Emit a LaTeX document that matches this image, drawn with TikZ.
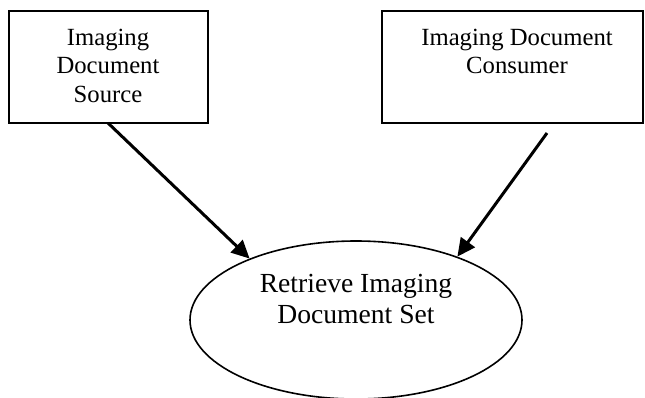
\documentclass[tikz,border=0pt]{standalone}
\usepackage{fontspec}
\setmainfont{Liberation Serif}
\usetikzlibrary{arrows.meta,shapes.geometric}
\begin{document}
\begin{tikzpicture}[x=1pt,y=-1pt,
  actorbox/.style={draw,line width=1.6pt,rectangle,inner sep=0pt},
  boxtext/.style={align=center,anchor=north,inner sep=0pt,font=\fontsize{24.7}{28.5}\selectfont},
  usecase/.style={draw,line width=1.6pt,ellipse,inner sep=0pt,minimum width=332pt,minimum height=158pt},
  ucttext/.style={align=center,anchor=north,inner sep=0pt,font=\fontsize{27.6}{31}\selectfont},
  flow/.style={line width=3pt,-{Triangle[length=18pt,width=17pt]}}]
\useasboundingbox (0,0) rectangle (645,398);
\node[actorbox,minimum width=199pt,minimum height=112pt] (src) at (108.5,67) {};
\node[actorbox,minimum width=261pt,minimum height=112pt] (cons) at (512.5,67) {};
\node[boxtext] (srctext) at (108,28.5) {Imaging\\Document\\Source};
\node[boxtext] (constext) at (517,28.5) {Imaging Document\\Consumer};
\node[usecase] (uc) at (356,320) {};
\node[ucttext] (uctext) at (356,274) {Retrieve Imaging\\Document Set};
\coordinate (consout) at (547,133);
\draw[flow] (108,123) -- (uc.150.4);
\draw[flow] (consout) -- (uc.32.9);
\end{tikzpicture}
\end{document}
